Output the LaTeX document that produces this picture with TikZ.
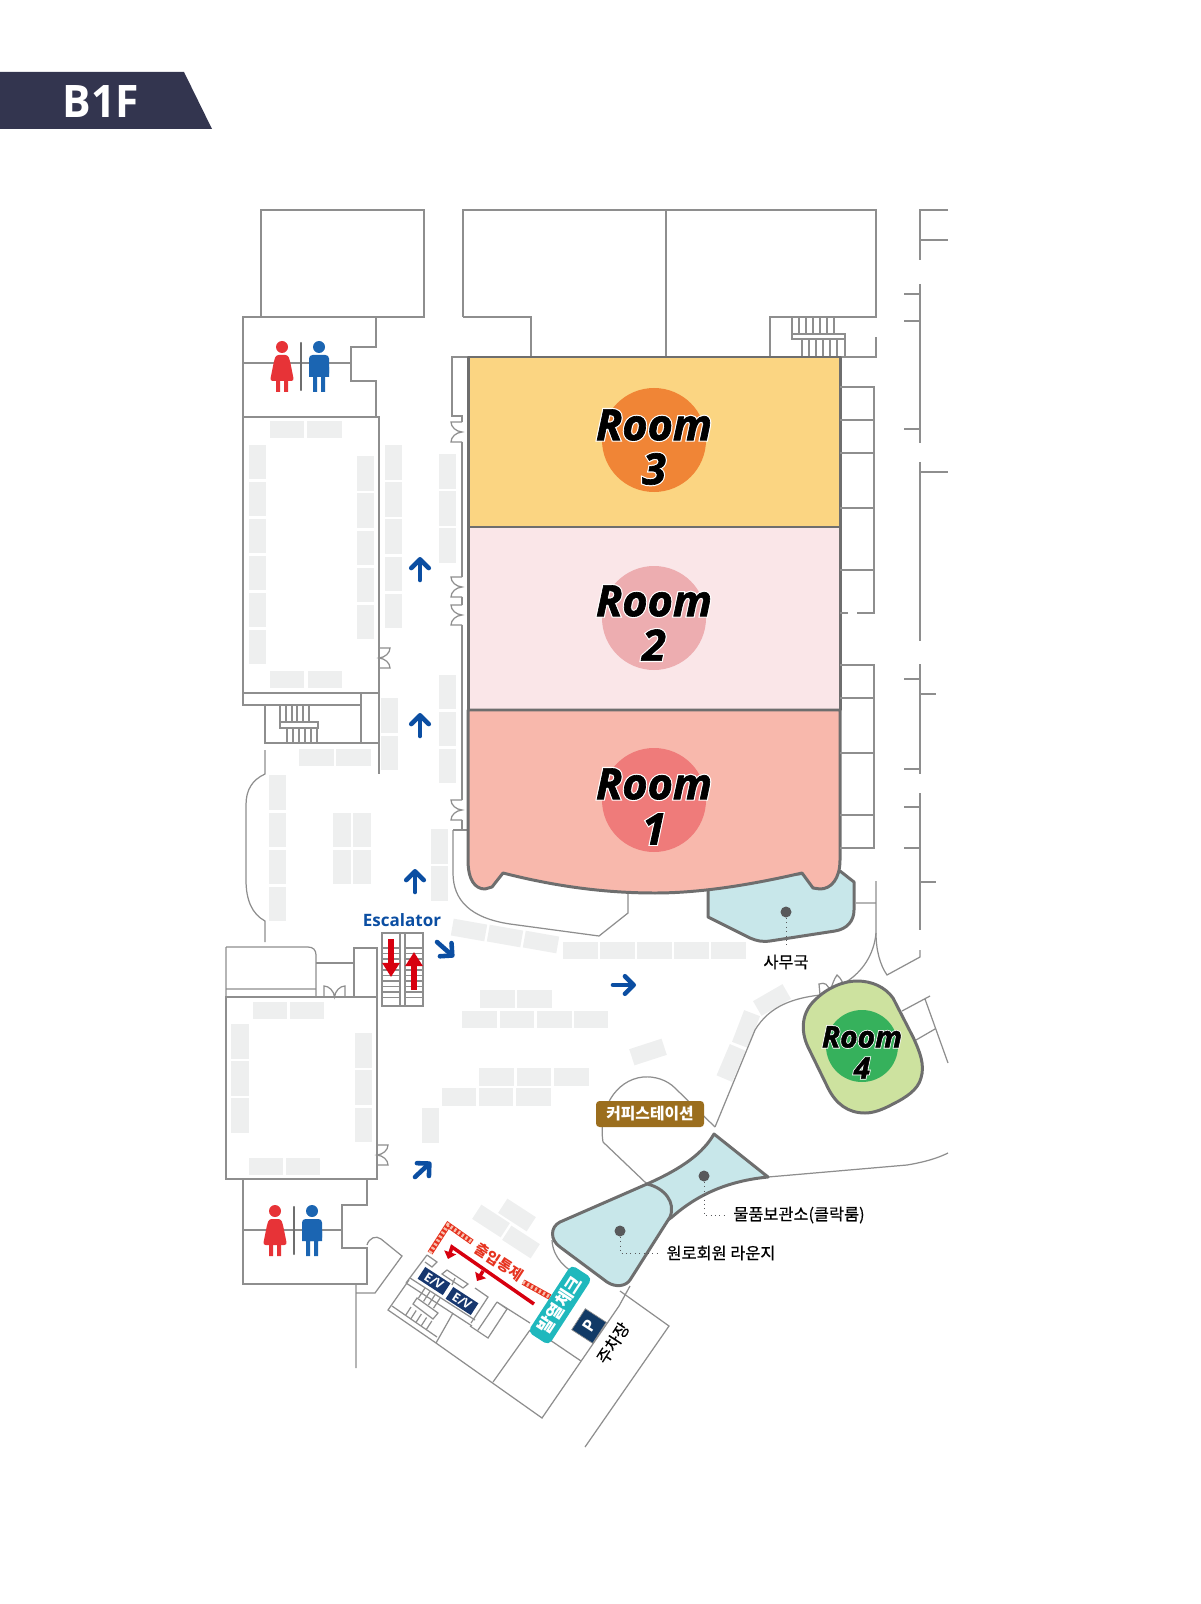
\documentclass[tikz,border=0pt]{standalone}
\usepackage{fontspec}
\usetikzlibrary{arrows.meta}
\setmainfont{Open Sans}
\newfontfamily\krfont{Noto Sans CJK KR}[FakeBold=0.35]
\newfontfamily\krheavy{Noto Sans CJK KR}
\newfontfamily\roomfont{Open Sans}[BoldItalicFeatures={FakeBold=1.5}]
\newfontfamily\halofont{Open Sans}[BoldItalicFeatures={FakeBold=7}]
\definecolor{wallgray}{HTML}{8E8E8E}
\definecolor{edgegray}{HTML}{6E6E6E}
\definecolor{boxgray}{HTML}{EEEFEF}
\definecolor{badgenavy}{HTML}{33354F}
\definecolor{room3fill}{HTML}{FBD582}
\definecolor{room3disc}{HTML}{F08536}
\definecolor{room2fill}{HTML}{FAE6E8}
\definecolor{room2disc}{HTML}{EDADB0}
\definecolor{room1fill}{HTML}{F8B8AC}
\definecolor{room1disc}{HTML}{EF7B7A}
\definecolor{room4fill}{HTML}{CDE29F}
\definecolor{room4disc}{HTML}{36B15C}
\definecolor{loungeblue}{HTML}{C8E7EA}
\definecolor{arrowblue}{HTML}{0B4EA2}
\definecolor{arrowred}{HTML}{D7000F}
\definecolor{ladyred}{HTML}{E73337}
\definecolor{manblue}{HTML}{1B65B2}
\definecolor{dotgray}{HTML}{58595B}
\definecolor{coffeebrown}{HTML}{9B6E1E}
\definecolor{checkteal}{HTML}{1FB8BD}
\definecolor{evnavy}{HTML}{17376F}
\definecolor{parknavy}{HTML}{113A66}
\definecolor{bannedred}{HTML}{E6331F}
\definecolor{hazardpink}{HTML}{F6C0AE}
\tikzset{
  wall/.style={draw=wallgray,line width=0.7pt,line join=miter},
  roomedge/.style={draw=edgegray,line width=1.7pt,line join=round},
  bluearrow/.style={draw=arrowblue,line width=2.6pt,line cap=round,-{Straight Barb[length=5pt,width=10pt,round]}},
  redarrow/.style={draw=arrowred,line width=3.4pt,-{Triangle[length=8pt,width=9.5pt]}},
  thinred/.style={draw=arrowred,line width=2pt,-{Triangle[length=4pt,width=7pt]}},
  tilted/.style={fill=boxgray,inner sep=0pt,minimum width=0.68cm,minimum height=0.34cm},
  leader/.style={draw=dotgray,line width=0.5pt,dotted},
  kr/.style={font=\krfont\fontsize{9.3}{10}\selectfont,inner sep=0pt},
  krbold/.style={font=\krheavy\bfseries\fontsize{9}{10}\selectfont,inner sep=0pt},
  hazard/.style={draw=bannedred,line width=3.2pt},
  hazardgap/.style={draw=hazardpink,line width=2.2pt,dash pattern=on 1.2pt off 1.4pt},
  doorpair/.pic={\draw[wall] (0,0)--(-11,0) .. controls (-11,5) and (-6,9.5) .. (0,10) .. controls (-6,10.5) and (-11,15) .. (-11,20)--(0,20);},
  lady/.pic={
    \fill[ladyred] (0,0) circle (6);
    \fill[ladyred,rounded corners=1.5pt] (-6,8)--(6,8)--(8,14)--(12,34)--(-12,34)--(-8,14)--cycle;
    \fill[ladyred] (-6,34) rectangle (-2,45) (2,34) rectangle (6,45);},
  gent/.pic={
    \fill[manblue] (0,0) circle (6);
    \fill[manblue,rounded corners=2pt] (-10,8) rectangle (10,30);
    \fill[manblue] (-10,20) rectangle (10,30) (-6,30) rectangle (-2,45) (2,30) rectangle (6,45);}
}
\newcommand{\roomlabel}[4]{%
  \node[white,font=\halofont\bfseries\itshape\fontsize{#3}{#3}\selectfont] (#1h) at (#2) {#4};
  \node[black,font=\roomfont\bfseries\itshape\fontsize{#3}{#3}\selectfont] (#1) at (#2) {#4};}
\begin{document}
\begin{tikzpicture}[x=0.02cm,y=-0.02cm]
\useasboundingbox (0,0) rectangle (1200,1604);
\fill[badgenavy] (0,72)--(184,72)--(212,129)--(0,129)--cycle;
\node[white,font=\bfseries\fontsize{25.5}{26}\selectfont,xscale=0.95] (floorname) at (101,102) {B1F};

\draw[wall] (261,317)--(261,210)--(424,210)--(424,317)--(376,317)--(243,317)--(243,417);
\draw[wall] (376,317)--(376,347)--(351,347)--(351,381)--(376,381)--(376,417);
\draw[wall] (243,363)--(351,363);
\draw[wall] (243,417) rectangle (379,693);
\draw[wall] (243,693) rectangle (361,705);
\draw[wall] (361,705)--(361,743) (379,693)--(379,774) (265,705)--(265,743)--(379,743);
\foreach \xa in {280,286,292,297,303,309} \draw[wall] (\xa,705)--(\xa,722);
\foreach \xa in {287,293,299,305,311,317} \draw[wall] (\xa,728)--(\xa,743);
\draw[wall] (280,722) rectangle (318,728);
\draw[wall] (265,750)--(265,774) .. controls (252,780) and (246,790) .. (246,805)--(246,880) .. controls (246,900) and (252,914) .. (265,921)--(265,942);
\draw[wall] (463,317)--(463,210)--(876,210)--(876,317)--(770,317)--(770,357);
\draw[wall] (463,317)--(531,317)--(531,357) (666,210)--(666,357);
\foreach \xa in {792,799,806,813,820,827,834} \draw[wall] (\xa,317)--(\xa,334);
\foreach \xa in {802,809,816,823,830,837,845} \draw[wall] (\xa,339)--(\xa,357);
\draw[wall] (792,334) rectangle (845,339);
\draw[wall] (840,357)--(876,357)--(876,337);

\draw[wall] (468,357)--(452,357)--(452,416)--(462,416)--(462,422);
\pic at (462,422) {doorpair};
\draw[wall] (462,442)--(462,577);
\pic at (462,577) {doorpair};
\draw[wall] (462,597)--(462,605);
\pic at (462,605) {doorpair};
\draw[wall] (462,625)--(462,800);
\pic at (462,800) {doorpair};
\draw[wall] (462,820)--(462,830) (453,830)--(468,830);
\draw[wall] (453,830)--(453,873) .. controls (453,900) and (470,918) .. (510,924)--(599,936)--(628,913)--(628,889);
\pic[xscale=-1] at (379,648) {doorpair};

\foreach \xa/\ya/\xb/\yb in {270/421/304/438,307/421/342/438,270/671/304/688,308/671/342/688,
  249/445/266/479,249/482/266/516,249/519/266/553,249/556/266/590,249/593/266/627,249/630/266/664,
  357/456/374/491,357/493/374/528,357/531/374/565,357/568/374/602,357/605/374/639,
  385/445/402/480,385/482/402/517,385/519/402/554,385/557/402/591,385/594/402/628,
  439/454/456/489,439/491/456/526,439/528/456/563,439/675/456/709,439/712/456/746,439/749/456/783,
  381/698/398/733,381/736/398/770,299/749/334/766,336/749/371/766,
  269/775/286/810,269/813/286/847,269/850/286/884,269/887/286/921,
  333/813/351/847,353/813/371/847,333/850/351/884,353/850/371/884,431/829/448/864,431/866/448/901,
  253/1002/287/1019,290/1002/324/1019,231/1024/249/1059,231/1061/249/1096,231/1098/249/1133,
  355/1033/372/1068,355/1070/372/1105,355/1108/372/1142,249/1158/283/1175,286/1158/320/1175,
  563/942/598/959,600/942/635/959,637/942/672/959,674/942/709/959,711/942/746/959,
  480/990/515/1008,517/990/552/1008,462/1011/497/1028,500/1011/534/1028,537/1011/572/1028,574/1011/608/1028,
  479/1068/514/1086,517/1068/551/1086,554/1068/589/1086,442/1088/476/1106,479/1088/513/1106,516/1088/551/1106,
  422/1108/439/1143}
  \fill[boxgray] (\xa,\ya) rectangle (\xb,\yb);
\foreach \xa/\ya/\ang [count=\i] in {469/930/-10,505/936/-10,541/942/-10,648/1052/18,772/1000/30,746/1029/69,731/1063/67,491/1221/-33,517/1215/-33,521/1242/-33}
  \node[tilted,rotate=\ang] (gray\i) at (\xa,\ya) {};

\fill[room3fill] (468,357) rectangle (840,527);
\fill[room2fill] (468,527) rectangle (840,710);
\draw[roomedge,fill=loungeblue] (708,880)--(708,917)--(750,938) .. controls (757,941) and (762,942) .. (770,941)--(835,931) .. controls (847,929) and (854,921) .. (854,910)--(854,882)--(840,871)--cycle;
\draw[roomedge,fill=room1fill] (468,710)--(840,710)--(840,860) .. controls (840,879) and (831,889) .. (820,889)--(813,888)--(802,873) .. controls (750,885) and (700,893) .. (655,893) .. controls (600,893) and (550,885) .. (503,873)--(492,887)--(485,889) .. controls (475,889) and (468,880) .. (468,860)--cycle;
\draw[roomedge] (468,357) rectangle (840,527) (468,527) rectangle (840,710);
\fill[room3disc] (654,440) circle (52);
\fill[room2disc] (654,618) circle (52);
\fill[room1disc] (654,800) circle (52);
\roomlabel{room3a}{654,425}{24.6}{Room}
\roomlabel{room3b}{654,469}{24.6}{3}
\roomlabel{room2a}{654,601}{24.6}{Room}
\roomlabel{room2b}{654,645}{24.6}{2}
\roomlabel{room1a}{654,784}{24.6}{Room}
\roomlabel{room1b}{654,829}{24.6}{1}

\draw[wall] (840,387)--(874,387)--(874,613)--(857,613) (848,613)--(840,613);
\foreach \ya in {420,453,508,570} \draw[wall] (840,\ya)--(874,\ya);
\draw[wall] (840,665)--(874,665)--(874,848)--(840,848);
\foreach \ya in {698,753,815} \draw[wall] (840,\ya)--(874,\ya);
\draw[wall] (948,210)--(920,210)--(920,260) (920,240)--(948,240);
\draw[wall] (920,284)--(920,443) (904,294)--(920,294) (904,321)--(920,321) (904,429)--(920,429);
\draw[wall] (920,462)--(920,641) (920,472)--(948,472);
\draw[wall] (920,664)--(920,774) (904,679)--(920,679) (904,769)--(920,769) (920,694)--(936,694);
\draw[wall] (920,793)--(920,930) (904,807)--(920,807) (904,848)--(920,848) (920,882)--(936,882);
\draw[wall] (920,950)--(920,957)--(887,975) .. controls (880,965) and (876,950) .. (876,933)--(876,881) (856,903)--(876,903);
\draw[wall] (876,933) .. controls (874,955) and (862,972) .. (846,982);

\draw[bluearrow] (420,580)--(420,557);
\draw[bluearrow] (420,736)--(420,713);
\draw[bluearrow] (415,892)--(415,869);
\draw[bluearrow] (437,942)--(454,957);
\draw[bluearrow] (613,985)--(636,985);
\draw[bluearrow] (415,1177)--(431,1162);
\node[arrowblue,font=\bfseries\fontsize{9.7}{10}\selectfont,inner sep=0pt] (escalatorname) at (402,920) {Escalator};

\draw[wall] (226,947)--(308,947) .. controls (313,947) and (316,950) .. (316,955)--(316,997) (226,989)--(316,989) (226,947)--(226,997);
\draw[wall] (316,963)--(354,963) (354,997)--(354,948)--(377,948)--(377,997);
\draw[wall] (226,997) rectangle (377,1179);
\draw[wall] (324,997)--(324,986) .. controls (329,986) and (334,991) .. (334.5,997) .. controls (335,991) and (340,986) .. (345,986)--(345,997);
\pic[xscale=-1] at (377,1145) {doorpair};
\draw[wall] (382,933) rectangle (423,1006) (400,933)--(400,1006) (405,933)--(405,1006);
\foreach \ya in {948,953.5,959,964.5,970,975.5,981,986.5,992,997.5} \draw[wall] (382,\ya)--(400,\ya) (405,\ya)--(423,\ya);
\draw[redarrow] (391,939)--(391,977);
\draw[redarrow] (414,990)--(414,952);

\draw[wall] (243,1179)--(243,1284)--(367,1284)--(367,1248)--(342,1248)--(342,1205)--(367,1205)--(367,1179);
\draw[wall] (243,1230)--(342,1230);
\draw[wall] (356,1284)--(356,1368) (356,1293)--(375,1293)--(402,1256)--(381,1239) .. controls (376,1235) and (369,1238) .. (367,1245);
\pic at (282,347) {lady};
\pic at (319,347) {gent};
\draw[edgegray,line width=1.4pt,line cap=round] (301,343)--(301,390);
\pic at (275,1211) {lady};
\pic at (312,1211) {gent};
\draw[edgegray,line width=1.4pt,line cap=round] (294,1207)--(294,1254);

\draw[wall] (820,995) .. controls (795,998) and (770,1005) .. (755,1030)--(715,1127);
\draw[wall] (820,995)--(819,984) .. controls (825,982) and (828,984) .. (830,992) .. controls (832,985) and (834,979) .. (837,975) .. controls (841,978) and (843,983) .. (844,987);
\draw[wall] (902,1011)--(930,996) (925,999)--(948,1063) (916,1040)--(935,1029);
\draw[roomedge,fill=room4fill] (893,998)--(913,1037) .. controls (920,1052) and (925,1065) .. (921,1078) .. controls (918,1090) and (905,1098) .. (893,1104) .. controls (882,1110) and (873,1113) .. (865,1113) .. controls (848,1113) and (836,1104) .. (828,1088)--(808,1047) .. controls (800,1030) and (802,1012) .. (815,1000) .. controls (827,988) and (843,981) .. (857,981) .. controls (872,981) and (885,987) .. (893,998)--cycle;
\fill[room4disc] (862,1046) circle (36);
\roomlabel{room4a}{862,1037}{17}{Room}
\roomlabel{room4b}{862,1068}{17}{4}

\draw[wall] (603,1142) .. controls (598,1110) and (615,1080) .. (643,1077) .. controls (655,1076) and (667,1080) .. (675,1088)--(715,1127);
\draw[wall] (603,1142)--(647,1184);
\draw[wall] (768,1177)--(907,1165) .. controls (925,1162) and (938,1158) .. (948,1153);
\draw[wall] (552,1240) .. controls (553,1258) and (565,1268) .. (580,1277);
\draw[roomedge,fill=loungeblue] (714,1134)--(768,1177) .. controls (727,1181) and (697,1195) .. (672,1217)--(640,1240)--(640,1190)--(647,1184) .. controls (683,1168) and (703,1153) .. (714,1134)--cycle;
\draw[roomedge,fill=loungeblue] (647,1184)--(560,1222) .. controls (550,1227) and (550,1240) .. (560,1247)--(607,1282) .. controls (616,1288) and (626,1286) .. (630,1280)--(670,1217) .. controls (676,1203) and (665,1188) .. (647,1184)--cycle;
\fill[dotgray] (786,912) circle (5.5) (704,1176) circle (5.5) (620,1231) circle (5.5);
\draw[leader] (786,918)--(786,948);
\draw[leader] (704,1182)--(704,1215)--(725,1215);
\draw[leader] (620,1237)--(620,1253)--(660,1253);
\node[kr] (officename) at (786,962) {사무국};
\node[kr] (cloakname) at (799,1215) {물품보관소(클락룸)};
\node[kr] (loungename) at (721,1253) {원로회원 라운지};
\node[krbold,text=white,fill=coffeebrown,rounded corners=2pt,minimum width=2.16cm,minimum height=0.52cm] (coffeename) at (650,1114) {커피스테이션};

\draw[wall] (630,1286)--(619,1306)--(542,1418)--(436,1343)--(388,1310)--(409,1280) (427,1255)--(406,1283);
\draw[wall] (620,1291)--(669,1326)--(585,1447);
\draw[wall] (493,1382)--(530,1330) (581,1361)--(550,1340) (530,1323)--(497,1302)--(507,1309)--(488,1338)--(470,1326) (497,1302)--(478,1330) (453,1313)--(436,1343);
\draw[wall] (406,1283)--(472,1326) (410,1278)--(475,1320);
\draw[wall] (392,1306)--(437,1337);
\draw[wall] (427,1255)--(437,1262)--(432,1267)--(425,1262);
\draw[wall] (447,1270)--(468,1284)--(463,1288)--(442,1274)--cycle (455,1278)--(452,1285);
\draw[wall] (475,1288)--(488,1297)--(471,1323);
\draw[wall] (413,1304)--(417,1298)--(438,1313)--(433,1319)--cycle;
\foreach \i in {0,1,2,3} \draw[wall] ({425+5*\i},{1288+3.4*\i})--++(-6.5,10);
\foreach \i in {0,1,2,3,4} \draw[wall] ({411+5.2*\i},{1307+3.5*\i})--++(-5.5,8.5);

\draw[hazard] (430,1253)--(448,1225)--(472,1242);
\draw[hazardgap] (430,1253)--(448,1225)--(472,1242);
\draw[hazard] (523,1282)--(550,1297);
\draw[hazardgap] (523,1282)--(550,1297);
\draw[thinred] (534,1304)--(452,1247)--(448,1259);
\draw[thinred] (483,1271)--(477,1281);
\node[krbold,text=bannedred,font=\krheavy\bfseries\fontsize{8.4}{10}\selectfont,rotate=-33] (controlname) at (499,1262) {출입통제};
\foreach \xa/\ya [count=\i] in {434/1281,462/1301}
  \node[fill=evnavy,text=white,font=\bfseries\fontsize{7}{7}\selectfont,rotate=-33,inner sep=0pt,minimum width=0.6cm,minimum height=0.28cm] (lift\i) at (\xa,\ya) {E/V};
\node[fill=checkteal,text=white,font=\krheavy\bfseries\fontsize{10}{11}\selectfont,rotate=57,rounded corners=3pt,inner sep=0pt,minimum width=1.6cm,minimum height=0.5cm] (feverbox) at (560,1305) {발열체크};
\node[fill=parknavy,draw=wallgray,text=white,font=\bfseries\fontsize{9.5}{9}\selectfont,rotate=57,inner sep=0pt,minimum size=0.5cm] (parkbox) at (589,1326) {P};
\node[kr,rotate=57] (parkname) at (613,1343) {주차장};
\end{tikzpicture}
\end{document}
